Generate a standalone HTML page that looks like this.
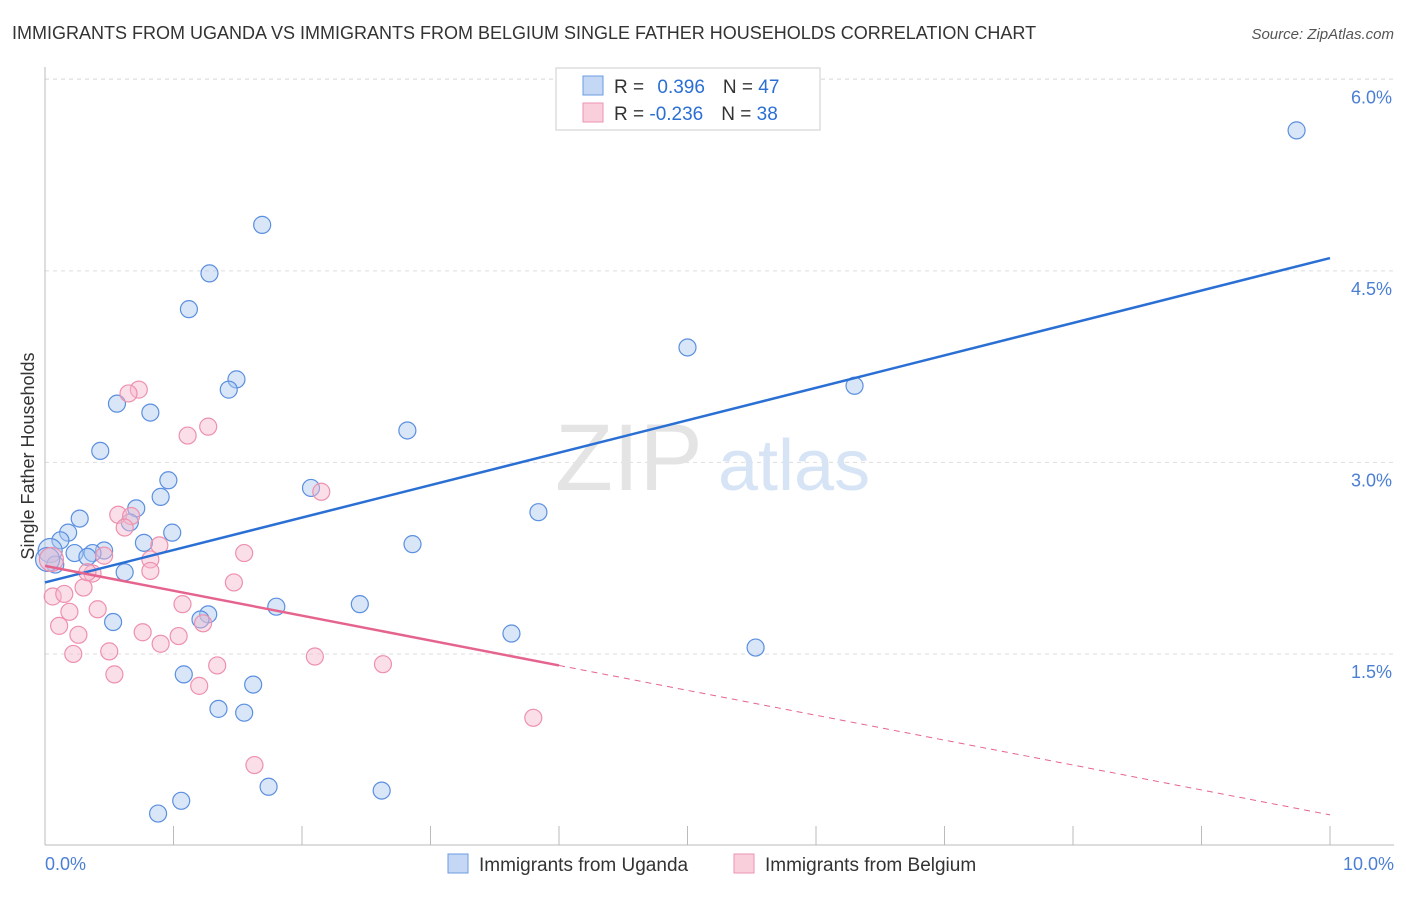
<!DOCTYPE html>
<html><head><meta charset="utf-8"><style>
body{margin:0;background:#fff;font-family:"Liberation Sans",sans-serif;}
svg text{font-family:"Liberation Sans",sans-serif;}
</style></head><body>
<svg id="chart" width="1406" height="892" xmlns="http://www.w3.org/2000/svg">
<text x="12" y="39" font-size="18" fill="#333">IMMIGRANTS FROM UGANDA VS IMMIGRANTS FROM BELGIUM SINGLE FATHER HOUSEHOLDS CORRELATION CHART</text>
<text x="1394" y="39" font-size="15" fill="#555" text-anchor="end" font-style="italic">Source: ZipAtlas.com</text>
<g id="grid"></g>
<g><text x="555" y="490" font-size="95" fill="#e4e4e4" font-family="Liberation Serif">ZIP</text><text x="718" y="490" font-size="72" fill="#d6e4f5">atlas</text></g>
<text transform="translate(34,456) rotate(-90)" font-size="18" fill="#333" text-anchor="middle">Single Father Households</text>
<g id="marks"></g>
<g>
<rect x="556" y="68" width="264" height="62" fill="#fff" stroke="#ccc"/>
<rect x="583" y="76" width="20" height="19" fill="#c4d8f5" stroke="#6a9be0"/>
<rect x="583" y="103" width="20" height="19" fill="#f9cfdc" stroke="#ec93b0"/>
<text x="614" y="93" font-size="19" fill="#333">R = <tspan fill="#2a6fd4" dx="8">0.396</tspan><tspan fill="#333" dx="18">N = </tspan><tspan fill="#2a6fd4">47</tspan></text>
<text x="614" y="120" font-size="19" fill="#333">R = <tspan fill="#2a6fd4">-0.236</tspan><tspan fill="#333" dx="18">N = </tspan><tspan fill="#2a6fd4">38</tspan></text>
</g>
<g>
<rect x="448" y="854" width="20" height="19" fill="#c4d8f5" stroke="#6a9be0"/>
<text x="479" y="871" font-size="19" fill="#333">Immigrants from Uganda</text>
<rect x="734" y="854" width="20" height="19" fill="#f9cfdc" stroke="#ec93b0"/>
<text x="765" y="871" font-size="19" fill="#333">Immigrants from Belgium</text>
</g>
</svg>
<script>
const yTicks=[1.5,3.0,4.5,6.0];
const yTickLabels=["1.5%","3.0%","4.5%","6.0%"];
const xTicks=[0,1,2,3,4,5,6,7,8,9,10];
const xEndLabels=["0.0%","10.0%"];
const ugandaX=[1.69,1.28,1.12,1.49,1.43,0.56,0.82,0.43,2.82,5.00,6.30,9.74,2.07,0.96,0.90,0.71,0.27,0.66,0.18,0.99,0.12,0.77,0.23,0.46,0.37,0.33,0.04,0.08,0.62,3.84,2.86,1.80,2.45,1.27,1.21,0.53,3.63,5.53,1.08,1.62,1.35,1.55,1.74,2.62,1.06,0.88,0.02];
const ugandaY=[4.86,4.48,4.20,3.65,3.57,3.46,3.39,3.09,3.25,3.90,3.60,5.60,2.80,2.86,2.73,2.64,2.56,2.53,2.45,2.45,2.39,2.37,2.29,2.31,2.29,2.26,2.31,2.20,2.14,2.61,2.36,1.87,1.89,1.81,1.77,1.75,1.66,1.55,1.34,1.26,1.07,1.04,0.46,0.43,0.35,0.25,2.24];
const belgiumX=[0.73,0.65,1.11,1.27,2.15,0.57,0.67,0.62,0.89,1.55,0.82,0.46,0.37,0.82,1.47,0.05,0.30,0.06,0.15,0.19,0.41,1.07,0.11,0.26,0.76,1.04,0.90,1.23,0.22,0.50,0.54,1.20,1.34,2.10,2.63,3.80,1.63,0.33];
const belgiumY=[3.57,3.54,3.21,3.28,2.77,2.59,2.58,2.49,2.35,2.29,2.24,2.27,2.13,2.15,2.06,2.24,2.02,1.95,1.97,1.83,1.85,1.89,1.72,1.65,1.67,1.64,1.58,1.74,1.50,1.52,1.34,1.25,1.41,1.48,1.42,1.00,0.63,2.14];
const ugandaTrend=[2.06,4.60];
const belgiumTrend=[2.19,0.24];
const belgiumSolidEnd=4.0;
const NS="http://www.w3.org/2000/svg";
const xs=v=>45+v*128.5, ys=v=>845.5-v*127.7;
function mk(t,a,p){const e=document.createElementNS(NS,t);for(const k in a)e.setAttribute(k,a[k]);p.appendChild(e);return e;}
const grid=document.getElementById('grid'), marks=document.getElementById('marks');
yTicks.forEach((v,i)=>{
 const g=mk('line',{x1:45,x2:1394,y1:ys(v),y2:ys(v),stroke:'#ddd','stroke-dasharray':'4,4'},grid);
 
 
 const t=mk('text',{x:1392,y:ys(v)+24,'font-size':18,fill:'#4a7fd4','text-anchor':'end'},grid);
 t.textContent=yTickLabels[i];
 
 
});
const topg=mk('line',{x1:45,x2:1394,y1:79,y2:79,stroke:'#ddd','stroke-dasharray':'4,4'},grid);
const ya=mk('line',{x1:45,x2:45,y1:67,y2:845,stroke:'#bbb'},grid);


const xa=mk('line',{x1:45,x2:1394,y1:845,y2:845,stroke:'#bbb'},grid);


xTicks.forEach(v=>{const l=mk('line',{x1:xs(v),x2:xs(v),y1:826,y2:845,stroke:'#bbb'},grid);
 
 });
[[0,'start',45],[10,'end',1394]].forEach((d,i)=>{const t=mk('text',{x:d[2],y:870,'font-size':18,fill:'#4a7fd4','text-anchor':d[1]},grid);t.textContent=xEndLabels[i];
 
 });
function pts(X,Y,fill,stroke,name){X.forEach((x,i)=>{const r=(x<0.06)?12:8.5;const c=mk('circle',{cx:xs(x),cy:ys(Y[i]),r:r,fill:fill,'fill-opacity':0.45,stroke:stroke,'stroke-width':1.2},marks);
 
 });}
pts(ugandaX,ugandaY,'#a8c8f0','#5b8fe0','uganda-point');
pts(belgiumX,belgiumY,'#f7b8cc','#ee90ad','belgium-point');
const bt=v=>belgiumTrend[0]+(belgiumTrend[1]-belgiumTrend[0])*v/10;
const l1=mk('line',{x1:xs(0),y1:ys(ugandaTrend[0]),x2:xs(10),y2:ys(ugandaTrend[1]),stroke:'#2a6fd4','stroke-width':2.5},marks);


const l2=mk('line',{x1:xs(0),y1:ys(bt(0)),x2:xs(belgiumSolidEnd),y2:ys(bt(belgiumSolidEnd)),stroke:'#e5648e','stroke-width':2.5},marks);


const l3=mk('line',{x1:xs(belgiumSolidEnd),y1:ys(bt(belgiumSolidEnd)),x2:xs(10),y2:ys(bt(10)),stroke:'#e5648e','stroke-width':1,'stroke-dasharray':'6,5'},marks);


</script>
</body></html>
